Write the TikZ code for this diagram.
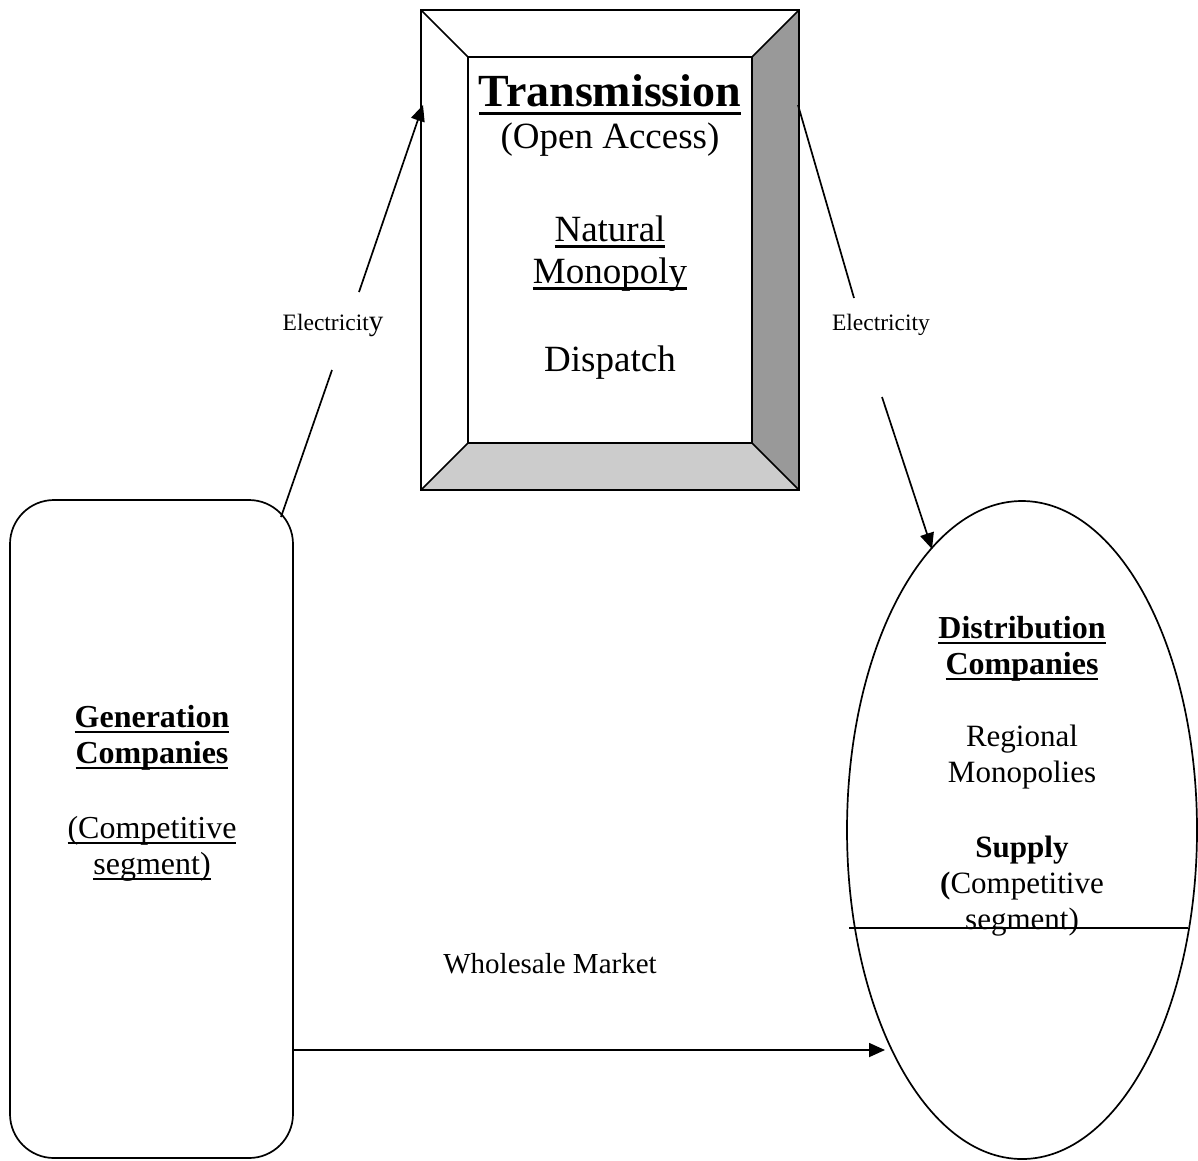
\documentclass[tikz,border=0pt]{standalone}
\usepackage{fontspec}
\setmainfont{Liberation Serif}
\usetikzlibrary{arrows.meta,shapes.geometric}
\definecolor{bevdark}{HTML}{999999}
\definecolor{bevlight}{HTML}{CCCCCC}
\newcommand\myul[1]{\setbox0=\hbox{#1}\rlap{\vrule width\wd0 height -0.12em depth 0.185em}\box0}
\newcommand\mybul[1]{\setbox0=\hbox{#1}\rlap{\vrule width\wd0 height -0.13em depth 0.2em}\box0}
\tikzset{
  lw/.style={line width=1.7pt},
  txt/.style={anchor=base, inner sep=0pt},
  big/.style={font=\fontsize{37}{40}\selectfont},
  mid/.style={font=\fontsize{32}{36}\selectfont},
  elec/.style={font=\fontsize{23.5}{26}\selectfont},
  tip/.style={-{Triangle[length=16pt,width=14pt]}},
}
\begin{document}
\begin{tikzpicture}[x=1pt,y=-1pt]
\useasboundingbox (0,0) rectangle (1198,1160);
% transmission bevel box
\fill[bevdark] (752,57) -- (799,10) -- (799,490) -- (752,443) -- cycle;
\fill[bevlight] (468,443) -- (752,443) -- (799,490) -- (421,490) -- cycle;
\draw[line width=2pt] (421,10) rectangle (799,490);
\draw[line width=2pt] (468,57) rectangle (752,443);
\draw[line width=1.6pt] (421,10) -- (468,57) (799,10) -- (752,57) (421,490) -- (468,443) (799,490) -- (752,443);
% generation rounded box
\node[draw, lw, rounded corners=44pt, minimum width=283pt, minimum height=658pt, inner sep=0pt] (gen) at (151.5,829) {};
% distribution ellipse
\node[draw, lw, ellipse, minimum width=350pt, minimum height=658pt, inner sep=0pt] (dist) at (1022,830) {};
\coordinate (h1) at (849,928);
\coordinate (h2) at (1188,928);
\draw[lw] (h1) -- (h2);
% texts in transmission
\node[txt, font=\fontsize{46}{50}\selectfont\bfseries] (ttitle) at (610,106) {\mybul{Transmission}};
\node[txt, big] (topen) at (610,148) {(Open Access)};
\node[txt, big] (tnat) at (610,241) {\myul{Natural}};
\node[txt, big] (tmono) at (610,283) {\myul{Monopoly}};
\node[txt, big] (tdisp) at (610,371) {Dispatch};
% generation texts
\node[txt, font=\fontsize{32}{36}\selectfont\bfseries] (g1) at (152,727) {\mybul{Generation}};
\node[txt, font=\fontsize{32}{36}\selectfont\bfseries] (g2) at (152,763) {\mybul{Companies}};
\node[txt, mid] (g3) at (152,838) {\myul{(Competitive}};
\node[txt, mid] (g4) at (152,874) {\myul{segment)}};
% distribution texts
\node[txt, font=\fontsize{32}{36}\selectfont\bfseries] (d1) at (1022,638) {\mybul{Distribution}};
\node[txt, font=\fontsize{32}{36}\selectfont\bfseries] (d2) at (1022,674) {\mybul{Companies}};
\node[txt, font=\fontsize{31}{36}\selectfont] (d3) at (1022,746) {Regional};
\node[txt, font=\fontsize{31}{36}\selectfont] (d4) at (1022,782) {Monopolies};
\node[txt, font=\fontsize{31}{36}\selectfont\bfseries] (d5) at (1022,857) {Supply};
\node[txt, font=\fontsize{31}{36}\selectfont] (d6) at (1022,893) {{\bfseries(}Competitive};
\node[txt, font=\fontsize{31}{36}\selectfont] (d7) at (1022,929) {segment)};
% labels
\node[txt, elec] (lel) at (333,330) {Electricit{\fontsize{29}{30}\selectfont y}};
\node[txt, elec] (rel) at (881,330) {Electricity};
\node[txt, font=\fontsize{29}{32}\selectfont] (wm) at (550,973) {Wholesale Market};
% connectors
\coordinate (l1) at (281,517);
\coordinate (l2) at (332,370);
\coordinate (l3) at (359,292);
\coordinate (l4) at (423,105);
\draw[lw] (l1) -- (l2);
\draw[lw, tip] (l3) -- (l4);
\coordinate (r1) at (798,105);
\coordinate (r2) at (854,298);
\coordinate (r3) at (882,397);
\coordinate (r4) at (932,549);
\draw[lw] (r1) -- (r2);
\draw[lw, tip] (r3) -- (r4);
\coordinate (w1) at (293,1050);
\coordinate (w2) at (885,1050);
\draw[lw, tip] (w1) -- (w2);
\end{tikzpicture}
\end{document}
